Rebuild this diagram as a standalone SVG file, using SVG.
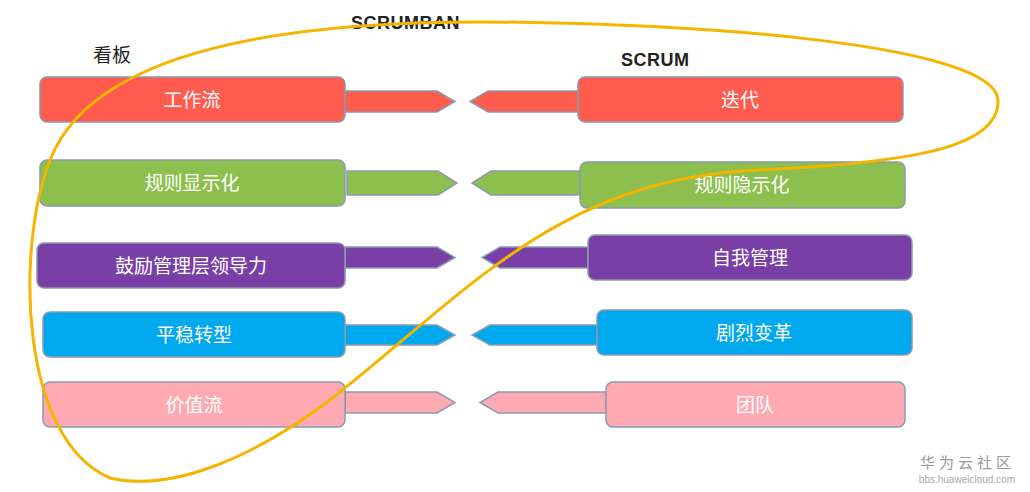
<svg xmlns="http://www.w3.org/2000/svg" width="1030" height="492" viewBox="0 0 1030 492">
<style>
.b{stroke:#8a9bb0;stroke-width:1.5}
.t{font-family:"Noto Sans CJK SC","Liberation Serif",serif;font-size:19px;fill:#fff;text-anchor:middle}
.h{font-family:"Liberation Sans",sans-serif;font-size:18px;font-weight:bold;fill:#222;letter-spacing:0.5px}
.r{fill:#FF5B4F}.g{fill:#8CBF4E}.p{fill:#7A3FA6}.c{fill:#00A8EE}.k{fill:#FFAAB2}
</style>
<rect width="1030" height="492" fill="#fff"/>
<text class="h" x="351" y="29">SCRUMBAN</text>
<text class="h" x="621" y="66">SCRUM</text>
<text x="93" y="62" font-family="Noto Sans CJK SC,serif" font-size="19" fill="#222">看板</text>
<g id="connectors">
<polygon class="b r" points="345,91 437,91 455,101.5 437,112 345,112"/>
<polygon class="b r" points="578,91 488,91 470,101.5 488,112 578,112"/>
<polygon class="b g" points="347,171 438,171 457,183 438,195 347,195"/>
<polygon class="b g" points="580,171 491,171 472,183 491,195 580,195"/>
<polygon class="b p" points="345,247 437,247 455,257.5 437,268 345,268"/>
<polygon class="b p" points="588,247 500,247 482,257.5 500,268 588,268"/>
<polygon class="b c" points="345,325 437,325 455,335 437,345 345,345"/>
<polygon class="b c" points="597,325 490,325 472,335 490,345 597,345"/>
<polygon class="b k" points="345,392 437,392 455,402.5 437,413 345,413"/>
<polygon class="b k" points="606,392 498,392 480,402.5 498,413 606,413"/>
</g>
<g id="n1"><rect class="b r" x="40" y="77" width="305" height="45" rx="7"/><text class="t" x="192" y="107">工作流</text></g>
<g id="n2"><rect class="b r" x="578" y="77" width="325" height="45" rx="7"/><text class="t" x="740" y="107">迭代</text></g>
<g id="n3"><rect class="b g" x="40" y="160" width="305" height="46" rx="7"/><text class="t" x="192" y="190">规则显示化</text></g>
<g id="n4"><rect class="b g" x="580" y="162" width="325" height="46" rx="7"/><text class="t" x="742" y="192">规则隐示化</text></g>
<g id="n5"><rect class="b p" x="37" y="243" width="308" height="45" rx="7"/><text class="t" x="191" y="273">鼓励管理层领导力</text></g>
<g id="n6"><rect class="b p" x="588" y="235" width="324" height="45" rx="7"/><text class="t" x="750" y="265">自我管理</text></g>
<g id="n7"><rect class="b c" x="43" y="312" width="302" height="45" rx="7"/><text class="t" x="194" y="342">平稳转型</text></g>
<g id="n8"><rect class="b c" x="597" y="310" width="315" height="45" rx="7"/><text class="t" x="754" y="340">剧烈变革</text></g>
<g id="n9"><rect class="b k" x="43" y="382" width="302" height="45" rx="7"/><text class="t" x="194" y="412">价值流</text></g>
<g id="n10"><rect class="b k" x="606" y="382" width="299" height="45" rx="7"/><text class="t" x="755" y="412">团队</text></g>
<path d="M110,478 C20,440 15,250 50,160 C95,45 300,22 480,22 C700,22 995,45 998,100 C1000,150 900,163 760,170 C560,178 470,290 330,400 C250,460 170,492 110,478 Z" fill="none" stroke="#F5B400" stroke-width="3"/>
<text x="1015" y="468" text-anchor="end" font-family="Noto Sans CJK SC,sans-serif" font-size="15" fill="#999" letter-spacing="4">华为云社区</text>
<text x="1015" y="483" text-anchor="end" font-family="Liberation Sans,sans-serif" font-size="10" fill="#aaa">bbs.huaweicloud.com</text>
</svg>
